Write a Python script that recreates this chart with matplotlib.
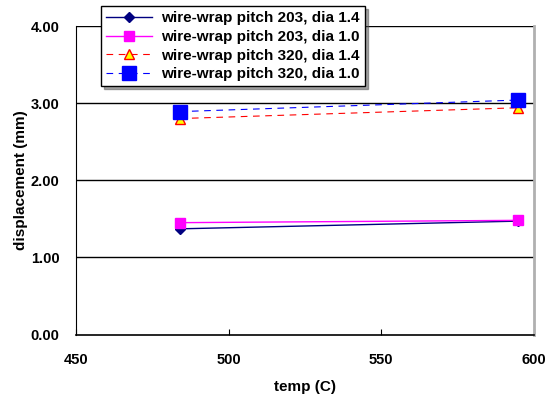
import matplotlib.pyplot as plt
from matplotlib.ticker import FormatStrFormatter

plt.rcParams['font.family'] = ['Liberation Sans', 'DejaVu Sans']
plt.rcParams['font.weight'] = 'bold'

temp = [484, 595]
p203_d14 = [1.37, 1.47]
p203_d10 = [1.45, 1.48]
p320_d14 = [2.80, 2.94]
p320_d10 = [2.89, 3.04]
labels = ['wire-wrap pitch 203, dia 1.4', 'wire-wrap pitch 203, dia 1.0',
          'wire-wrap pitch 320, dia 1.4', 'wire-wrap pitch 320, dia 1.0']

fig = plt.figure(figsize=(5.46, 3.94), dpi=100)
ax = fig.add_axes([76 / 546, 1 - 334.5 / 394, 457.5 / 546, 308.5 / 394])

ax.plot(temp, p203_d14, color='#000080', lw=1, marker='D', ms=5.5,
        mfc='#000080', mec='#000080', label=labels[0])
ax.plot(temp, p203_d10, color='#ff00ff', lw=1, marker='s', ms=7,
        mfc='#ff00ff', mec='#ff00ff', label=labels[1])
ax.plot(temp, p320_d14, color='#ff0000', lw=0.8, ls=(0, (6, 5)), marker='^', ms=7,
        mfc='#ffff00', mec='#ff0000', mew=1, label=labels[2])
ax.plot(temp, p320_d10, color='#0000ff', lw=0.8, ls=(0, (6, 5)), marker='s', ms=9.5,
        mfc='#0000ff', mec='#0000ff', label=labels[3])

ax.set_xlim(450, 600)
ax.set_ylim(0, 4)
ax.set_xticks([450, 500, 550, 600])
ax.set_yticks([0, 1, 2, 3, 4])
ax.yaxis.set_major_formatter(FormatStrFormatter('%.2f'))
ax.tick_params(axis='x', direction='in', length=4, labelsize=10.5, pad=13)
ax.tick_params(axis='y', length=0, labelsize=10.5, pad=12)
for lab in ax.get_xticklabels() + ax.get_yticklabels():
    lab.set_fontweight('bold')

for yv in [1, 2, 3, 4]:
    ax.axhline(yv, color='black', lw=1, zorder=0)

ax.spines['top'].set_visible(False)
ax.spines['right'].set_color('#b0b0b0')
ax.spines['right'].set_linewidth(2)
ax.spines['left'].set_color('black')
ax.spines['bottom'].set_color('black')
ax.spines['bottom'].set_linewidth(1.2)

ax.set_xlabel('temp (C)', fontsize=11, fontweight='bold', labelpad=10)
ax.set_ylabel('displacement (mm)', fontsize=11, fontweight='bold', labelpad=2)

leg = ax.legend(loc='upper left', bbox_to_anchor=(101 / 546, 1 - 6 / 394),
                bbox_transform=fig.transFigure, fontsize=11, frameon=True,
                fancybox=False, shadow=True, edgecolor='black',
                handlelength=3.0, handletextpad=0.6, labelspacing=0.3,
                borderpad=0.35, borderaxespad=0)
leg.get_frame().set_linewidth(1)
for t in leg.get_texts():
    t.set_fontweight('bold')

fig.savefig('out.png', dpi=100)
